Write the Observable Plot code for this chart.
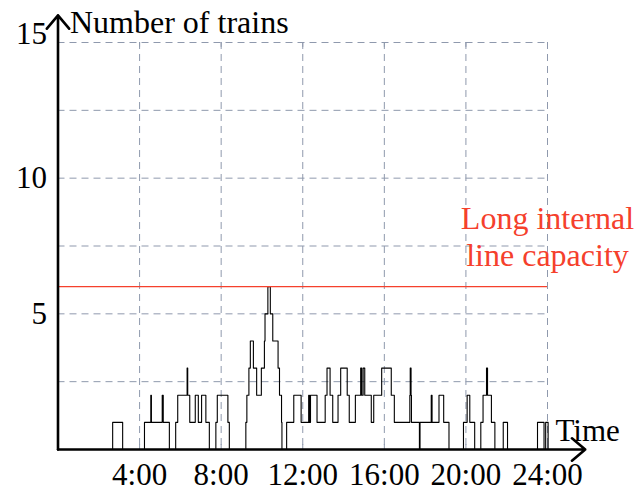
<!DOCTYPE html>
<html><head><meta charset="utf-8">
<script src="https://cdn.jsdelivr.net/npm/d3@7"></script>
<script src="https://cdn.jsdelivr.net/npm/@observablehq/plot@0.6"></script>
<style>body{margin:0;background:#fff}</style>
</head><body><div id="chart"></div>
<script>
// Step function: number of trains from times[i] (hours) until times[i+1]
const times = [0, 2.68, 3.17, 4.24, 4.55, 4.58, 5.11, 5.16, 5.46, 5.77, 5.87, 6.33, 6.36, 6.46, 6.73, 6.88, 7.04, 7.25, 7.42, 7.74, 7.81, 8.33, 8.40,
  9.21, 9.26, 9.36, 9.43, 9.58, 9.74, 9.97, 10.12, 10.15, 10.29, 10.41, 10.53, 10.79, 10.86, 10.96, 10.98,
  11.21, 11.56, 11.92, 12.29, 12.33, 12.38, 12.70, 13.10, 13.19, 13.34, 13.47, 13.73, 13.86, 14.18, 14.28, 14.58, 14.84, 14.89, 14.96, 15.04,
  15.36, 15.48, 15.87, 16.34, 16.49, 17.25, 17.27, 17.31, 17.33, 17.72, 17.75, 18.30, 18.34, 18.68, 18.91, 19.17,
  19.88, 20.06, 20.19, 20.43, 20.73, 20.84, 21.01, 21.06, 21.25, 21.42, 21.83, 22.04, 23.51, 23.83, 23.91, 24.03];
const counts = [0, 1, 0, 1, 2, 1, 2, 1, 0, 1, 2, 3, 2, 1, 2, 1, 2, 1, 0, 1, 2, 1, 0,
  1, 2, 3, 4, 3, 2, 3, 4, 5, 6, 5, 4, 3, 2, 1, 0,
  1, 2, 1, 2, 1, 2, 1, 2, 3, 2, 1, 2, 3, 2, 1, 2, 3, 2, 3, 2,
  1, 2, 3, 2, 1, 2, 3, 2, 1, 0, 1, 2, 1, 2, 1, 0,
  1, 2, 1, 0, 1, 2, 3, 2, 1, 0, 1, 0, 1, 0, 1, 0];
const xTicks = [4, 8, 12, 16, 20, 24];
const xTickLabels = ["4:00", "8:00", "12:00", "16:00", "20:00", "24:00"];
const yTicks = [5, 10];
const yTopTick = [15];
const gridX = [4, 8, 12, 16, 20, 24];
const gridY = [2.5, 5, 7.5, 10, 12.5, 15];
const capacity = 6;
const capacityLabel = "Long internal\nline capacity";
const yLabel = "Number of trains";
const xLabel = "Time";

const data = times.map((t, i) => ({t, n: counts[i]}));
const red = "#f5402c";
const gridColor = "#8f99ad";
const font = "'Liberation Serif', 'Times New Roman', serif";

const plot = Plot.plot({
  width: 636, height: 492,
  marginLeft: 57.5, marginRight: 89, marginTop: 42, marginBottom: 43,
  style: {fontFamily: font, background: "#fff", overflow: "visible", color: "black"},
  x: {type: "linear", domain: [0, 24], label: null},
  y: {type: "linear", domain: [0, 15], label: null},
  marks: [
    Plot.ruleX(gridX, {stroke: gridColor, strokeDasharray: "7,5", strokeWidth: 1}),
    Plot.ruleY(gridY, {stroke: gridColor, strokeDasharray: "7,5", strokeWidth: 1}),
    Plot.ruleX(gridX, {y1: 15, y2: 14.82, stroke: gridColor, strokeWidth: 1}),
    Plot.ruleX(gridX, {y1: 0, y2: 0.18, stroke: gridColor, strokeWidth: 1}),
    Plot.line(data, {x: "t", y: "n", curve: "step-after", stroke: "black", strokeWidth: 1.1}),
    Plot.ruleY([capacity], {x1: 0, x2: 24, stroke: red, strokeWidth: 1.2}),
    Plot.text([capacityLabel], {x: 24, y: capacity, text: d => d, fill: red, fontSize: 32, lineAnchor: "bottom", lineHeight: 1.15, textAnchor: "middle", dy: -21}),
    Plot.arrow([{x1: 0, y1: 0, x2: 25.85, y2: 0}], {x1: "x1", y1: "y1", x2: "x2", y2: "y2", stroke: "black", strokeWidth: 2.6, headLength: 10, headAngle: 80}),
    Plot.arrow([{x1: 0, y1: 0, x2: 0, y2: 16.0}], {x1: "x1", y1: "y1", x2: "x2", y2: "y2", stroke: "black", strokeWidth: 2.6, headLength: 10, headAngle: 80}),
    Plot.text([yLabel], {x: 0, y: 15, text: d => d, fontSize: 32, textAnchor: "start", lineAnchor: "bottom", dx: 12, dy: -10}),
    Plot.text([xLabel], {x: 24, y: 0, text: d => d, fontSize: 31, textAnchor: "start", lineAnchor: "bottom", dx: 8, dy: -9}),
    Plot.axisX(xTicks, {tickFormat: d => xTickLabels[xTicks.indexOf(d)], tickSize: 0, tickPadding: 13, fontSize: 31, label: null}),
    Plot.axisY(yTicks, {tickSize: 0, tickPadding: 11, fontSize: 31, label: null}),
    Plot.axisY(yTopTick, {tickSize: 0, tickPadding: 11, fontSize: 31, label: null, dy: -8})
  ]
});
document.getElementById("chart").appendChild(plot);
</script>
</body></html>
